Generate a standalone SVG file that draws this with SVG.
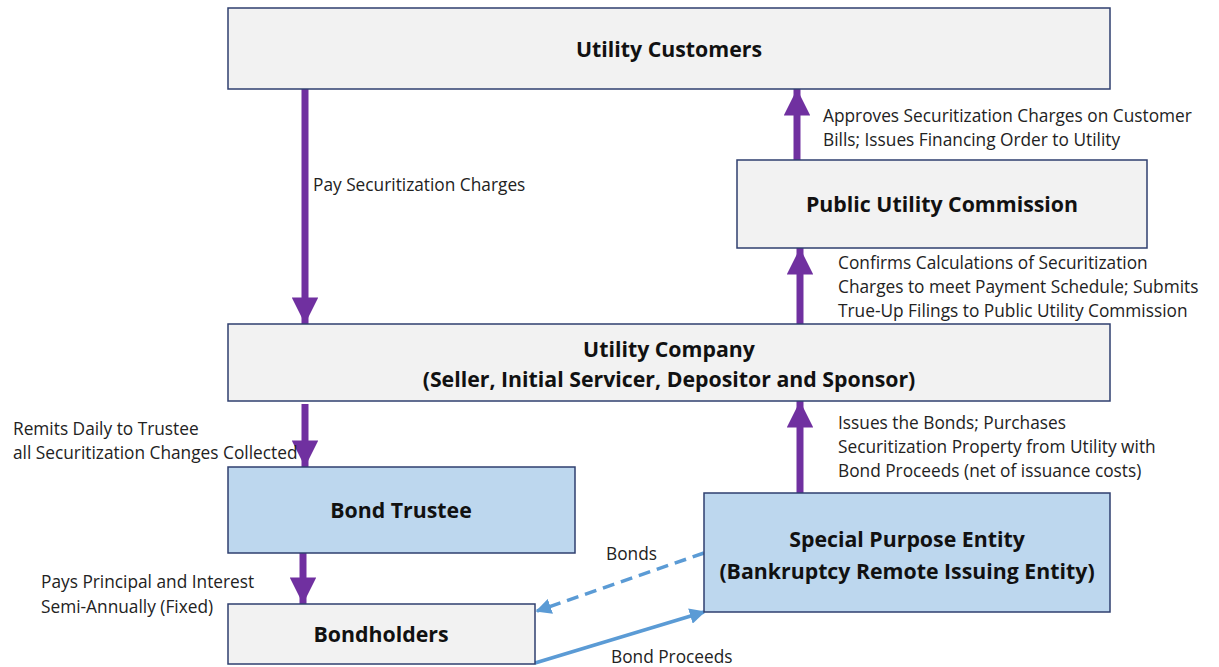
<svg xmlns="http://www.w3.org/2000/svg" width="1219" height="667" viewBox="0 0 1219 667">
<style>
.box{fill:#f2f2f2;stroke:#2f3f6f;stroke-width:1.5}
.blue{fill:#bdd7ee;stroke:#2f3f6f;stroke-width:1.5}
.t{font-family:"Open Sans",sans-serif;font-weight:bold;font-size:21.3px;fill:#111;text-anchor:middle}
.l{font-family:"Open Sans",sans-serif;font-size:17.3px;fill:#222}
.p{stroke:#7030a0;stroke-width:7;fill:none}
.b{stroke:#5b9bd5;stroke-width:3.5;fill:none}
</style>
<defs>
<marker id="ph" viewBox="0 0 10 10" refX="10" refY="5" markerWidth="3.8" markerHeight="3.8" orient="auto" markerUnits="strokeWidth"><path d="M0,0L10,5L0,10z" fill="#7030a0"/></marker>
<marker id="bh" viewBox="0 0 10 10" refX="9" refY="5" markerWidth="4.5" markerHeight="4.5" orient="auto" markerUnits="strokeWidth"><path d="M0,0L10,5L0,10z" fill="#5b9bd5"/></marker>
</defs>
<g id="connectors">
<line class="p" x1="305" y1="89" x2="305" y2="324" marker-end="url(#ph)"/>
<line class="p" x1="797" y1="160" x2="797" y2="89" marker-end="url(#ph)"/>
<line class="p" x1="800" y1="324" x2="800" y2="248" marker-end="url(#ph)"/>
<line class="p" x1="305" y1="404" x2="305" y2="467" marker-end="url(#ph)"/>
<line class="p" x1="303" y1="553" x2="303" y2="604" marker-end="url(#ph)"/>
<line class="p" x1="800" y1="493" x2="800" y2="401" marker-end="url(#ph)"/>
<line class="b" x1="704" y1="553" x2="537" y2="611" stroke-dasharray="12,7" marker-end="url(#bh)"/>
<line class="b" x1="535" y1="663" x2="704" y2="612" marker-end="url(#bh)"/>
<text class="l" x="313" y="191">Pay Securitization Charges</text>
<text class="l" x="823" y="122">Approves Securitization Charges on Customer</text>
<text class="l" x="823" y="146">Bills; Issues Financing Order to Utility</text>
<text class="l" x="838" y="269">Confirms Calculations of Securitization</text>
<text class="l" x="838" y="293">Charges to meet Payment Schedule; Submits</text>
<text class="l" x="838" y="317">True-Up Filings to Public Utility Commission</text>
<text class="l" x="13" y="435">Remits Daily to Trustee</text>
<text class="l" x="13" y="459">all Securitization Changes Collected</text>
<text class="l" x="838" y="429">Issues the Bonds; Purchases</text>
<text class="l" x="838" y="453">Securitization Property from Utility with</text>
<text class="l" x="838" y="477">Bond Proceeds (net of issuance costs)</text>
<text class="l" x="41" y="588">Pays Principal and Interest</text>
<text class="l" x="41" y="613">Semi-Annually (Fixed)</text>
<text class="l" x="606" y="560">Bonds</text>
<text class="l" x="611" y="663">Bond Proceeds</text>
</g>
<g id="utility-customers"><rect class="box" x="228" y="8" width="882" height="81"/><text class="t" x="669" y="57">Utility Customers</text></g>
<g id="puc"><rect class="box" x="737" y="160" width="410" height="88"/><text class="t" x="942" y="212">Public Utility Commission</text></g>
<g id="utility-company"><rect class="box" x="228" y="324" width="882" height="77"/><text class="t" x="669" y="357">Utility Company</text><text class="t" x="669" y="387">(Seller, Initial Servicer, Depositor and Sponsor)</text></g>
<g id="bond-trustee"><rect class="blue" x="228" y="467" width="347" height="86"/><text class="t" x="401" y="518">Bond Trustee</text></g>
<g id="spe"><rect class="blue" x="704" y="493" width="406" height="119"/><text class="t" x="907" y="547">Special Purpose Entity</text><text class="t" x="907" y="579">(Bankruptcy Remote Issuing Entity)</text></g>
<g id="bondholders"><rect class="box" x="228" y="604" width="307" height="60"/><text class="t" x="381" y="642">Bondholders</text></g>
</svg>
